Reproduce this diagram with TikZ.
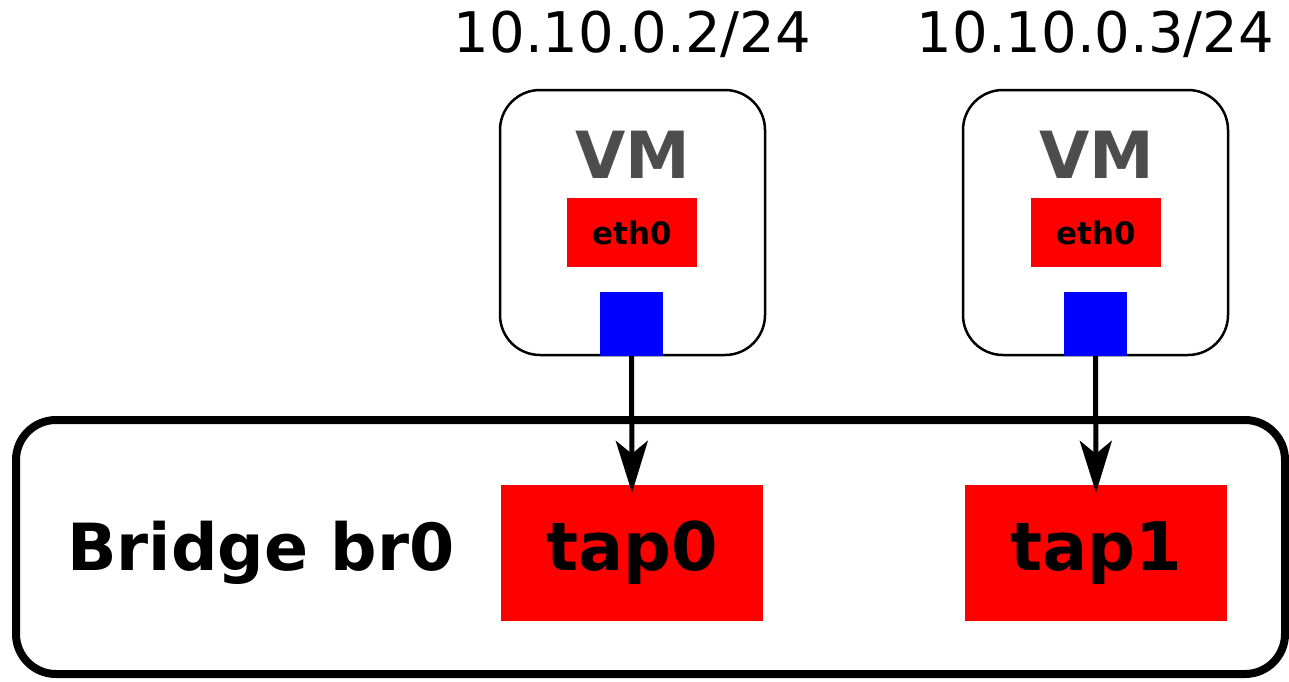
\documentclass[tikz,border=0pt]{standalone}
\usepackage{fontspec}
\setmainfont{DejaVu Sans}
\usetikzlibrary{positioning,arrows.meta}
\definecolor{vmgray}{HTML}{4D4D4D}

\begin{document}
\begin{tikzpicture}[
    x=1pt, y=-1pt,
    vmbox/.style={draw, line width=2.5pt, rounded corners=40pt, minimum width=265pt, minimum height=265pt},
    vmname/.style={anchor=base, inner sep=0pt, text=vmgray, font=\bfseries\fontsize{65}{70}\selectfont},
    iface/.style={fill=red, inner sep=0pt, minimum width=130pt, minimum height=69pt, font=\bfseries\fontsize{31}{36}\selectfont},
    port/.style={fill=blue, inner sep=0pt, minimum width=63pt, minimum height=64pt},
    tapbox/.style={fill=red, inner sep=0pt, minimum width=262pt, minimum height=136pt, font=\bfseries\fontsize{67}{80}\selectfont},
    iplabel/.style={inner sep=0pt, font=\fontsize{56}{60}\selectfont},
    link/.style={line width=5pt, -{Stealth[length=52pt, width=32pt, inset=13pt]}}
]
  \useasboundingbox (0,0) rectangle (1289,681);

  % Bridge
  \node (br0) [draw, line width=8pt, rounded corners=40pt, minimum width=1269pt, minimum height=254pt] at (650.5,547) {};
  \node (brname) [anchor=base west, inner sep=0pt, font=\bfseries\fontsize{65}{80}\selectfont] at (67,570) {Bridge br0};
  \node (tap0) [tapbox] at (632,553) {tap0};
  \node (tap1) [tapbox] at (1096,553) {tap1};

  % VMs
  \node (vm0) [vmbox] at (632.5,222.5) {};
  \node (vm1) [vmbox] at (1095.5,222.5) {};
  \node (ip0) [iplabel, above=36pt of vm0, anchor=base] {10.10.0.2/24};
  \node (ip1) [iplabel, above=36pt of vm1, anchor=base] {10.10.0.3/24};
  \node (vmname0) [vmname] at (633,178) {VM};
  \node (vmname1) [vmname] at (1097,178) {VM};
  \node (eth0a) [iface] at (632,232.5) {eth0};
  \node (eth0b) [iface] at (1096,232.5) {eth0};
  \node (port0) [port] at (631.5,324) {};
  \node (port1) [port] at (1095.5,324) {};

  % Arrows
  \draw[link] (port0.south) -- ([yshift=-8pt]tap0.north);
  \draw[link] (port1.south) -- ([yshift=-8pt]tap1.north);
\end{tikzpicture}
\end{document}
